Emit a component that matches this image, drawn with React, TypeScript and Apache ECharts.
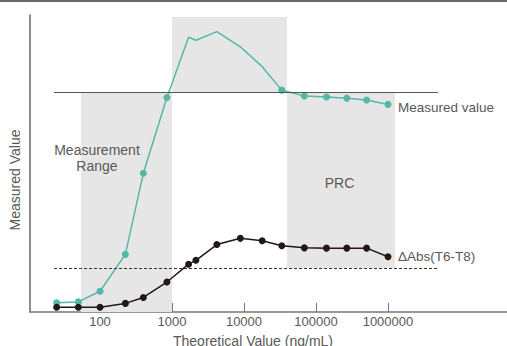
import React, { useEffect, useRef } from 'react';
import * as echarts from 'echarts';

// Theoretical concentrations (ng/mL)
const concentrations = [25, 50, 100, 225, 400, 850, 1700, 2150, 4200, 8900, 17900, 33500, 69000, 140000, 268000, 505000, 1000000];
// Measured value curve (relative units, 0–100)
const measuredValues = [3.1, 3.4, 7.0, 19.4, 46.7, 72.2, 92.5, 91.5, 94.4, 89.3, 82.6, 74.7, 72.7, 72.4, 72.0, 71.4, 69.9];
const measuredMarkerVisible = [true, true, true, true, true, true, false, false, false, false, false, true, true, true, true, true, true];
// ΔAbs(T6-T8) curve (relative units, 0–100)
const deltaAbs = [1.6, 1.6, 1.6, 2.9, 4.9, 10.1, 16.1, 17.4, 22.7, 24.8, 24.0, 22.3, 21.6, 21.5, 21.5, 21.5, 18.6];

const xTickValues = [100, 1000, 10000, 100000, 1000000];
const xExtent = [10.66, 45000000];
const yExtent = [0, 100];

// Shaded regions: [xFrom, xTo, yFrom, yTo]
const bandMeasurementLow = [54.5, 1000, 0, 74];
const bandMeasurementHigh = [1000, 39500, 74, 99.3];
const bandPRC = [39500, 1250000, 14.8, 74];

// Reference lines: [xFrom, xTo, y]
const solidRefLine = [23, 4940000, 74];
const dashedRefLine = [23, 4940000, 14.8];

// Annotation texts: [x, y]
const measurementRangePos = [90.8, 51.9];
const prcPos = [212000, 43.3];

const lg = (v: number) => Math.log10(v);

export default function App() {
  const ref = useRef<HTMLDivElement>(null);

  useEffect(() => {
    if (!ref.current) return;
    const chart = echarts.init(ref.current, undefined, { renderer: 'svg' });
    const font = '"Liberation Sans", Arial, Helvetica, sans-serif';
    const textColor = '#595959';
    const teal = '#55b8a6';
    const dark = '#231815';

    const band = (b: number[]) => [
      { coord: [lg(b[0]), b[2]] },
      { coord: [lg(b[1]), b[3]] },
    ];
    const hline = (l: number[], style: any) => [
      { coord: [lg(l[0]), l[2]], lineStyle: style },
      { coord: [lg(l[1]), l[2]] },
    ];

    const option: any = {
      animation: false,
      textStyle: { fontFamily: font },
      graphic: [
        { type: 'rect', left: 0, top: 0, shape: { width: 507, height: 2 }, style: { fill: '#666' }, silent: true },
      ],
      grid: { left: 30, right: 0, top: 15, bottom: 34, containLabel: false, outerBoundsMode: 'none' },
      xAxis: {
        type: 'value',
        min: lg(xExtent[0]),
        max: lg(xExtent[1]),
        name: 'Theoretical Value (ng/mL)',
        nameLocation: 'middle',
        nameGap: 22,
        nameTextStyle: { color: textColor, fontSize: 14, fontFamily: font, padding: [0, 31, 0, 0] },
        axisLine: { show: true, lineStyle: { color: '#777', width: 1.5 } },
        axisTick: { show: true, inside: true, length: 9, customValues: xTickValues.map(lg), lineStyle: { color: '#777', width: 1 } },
        axisLabel: {
          show: true,
          customValues: xTickValues.map(lg),
          formatter: (v: number) => String(Math.round(Math.pow(10, v))),
          color: textColor,
          fontSize: 13,
          fontFamily: font,
          margin: 3,
        },
        splitLine: { show: false },
      },
      yAxis: {
        type: 'value',
        min: yExtent[0],
        max: yExtent[1],
        name: 'Measured Value',
        nameLocation: 'middle',
        nameGap: 8,
        nameTextStyle: { color: textColor, fontSize: 14, fontFamily: font, padding: [0, 33, 0, 0] },
        axisLine: { show: true, lineStyle: { color: '#666', width: 1.5 } },
        axisTick: { show: false },
        axisLabel: { show: false },
        splitLine: { show: false },
      },
      series: [
        {
          name: 'Measured value',
          type: 'line',
          z: 3,
          showAllSymbol: true,
          symbol: 'circle',
          symbolSize: 7,
          color: teal,
          lineStyle: { color: teal, width: 1.5 },
          itemStyle: { color: teal },
          data: concentrations.map((c, i) => ({
            value: [lg(c), measuredValues[i]],
            symbol: measuredMarkerVisible[i] ? 'circle' : 'none',
          })),
          endLabel: {
            show: true,
            formatter: 'Measured value',
            color: textColor,
            fontSize: 13.5,
            fontFamily: font,
            distance: 10,
            offset: [0, 3],
          },
          markArea: {
            silent: true,
            itemStyle: { color: '#e6e6e6', opacity: 1 },
            label: { show: false },
            data: [band(bandMeasurementLow), band(bandMeasurementHigh), band(bandPRC)],
          },
          markPoint: {
            silent: true,
            symbol: 'circle',
            symbolSize: 0,
            label: {
              show: true,
              position: 'inside',
              formatter: '{b}',
              color: textColor,
              fontSize: 14,
              lineHeight: 16,
              fontFamily: font,
            },
            data: [
              { name: 'Measurement\nRange', coord: [lg(measurementRangePos[0]), measurementRangePos[1]] },
              { name: 'PRC', coord: [lg(prcPos[0]), prcPos[1]] },
            ],
          },
        },
        {
          name: 'ΔAbs(T6-T8)',
          type: 'line',
          z: 3,
          showAllSymbol: true,
          symbol: 'circle',
          symbolSize: 7,
          color: dark,
          lineStyle: { color: dark, width: 1.5 },
          itemStyle: { color: dark },
          data: concentrations.map((c, i) => [lg(c), deltaAbs[i]]),
          endLabel: {
            show: true,
            formatter: 'ΔAbs(T6-T8)',
            color: textColor,
            fontSize: 13.5,
            fontFamily: font,
            distance: 10,
          },
          markLine: {
            silent: true,
            symbol: ['none', 'none'],
            label: { show: false },
            data: [
              hline(solidRefLine, { color: '#555', width: 1.2, type: 'solid' }),
              hline(dashedRefLine, { color: '#333', width: 1, type: [3, 2] }),
            ],
          },
        },
      ],
    };
    chart.setOption(option);
    return () => chart.dispose();
  }, []);

  return (
    <div
      ref={ref}
      style={{ position: 'fixed', left: 0, top: 0, width: 507, height: 346, background: '#fff' }}
    />
  );
}
